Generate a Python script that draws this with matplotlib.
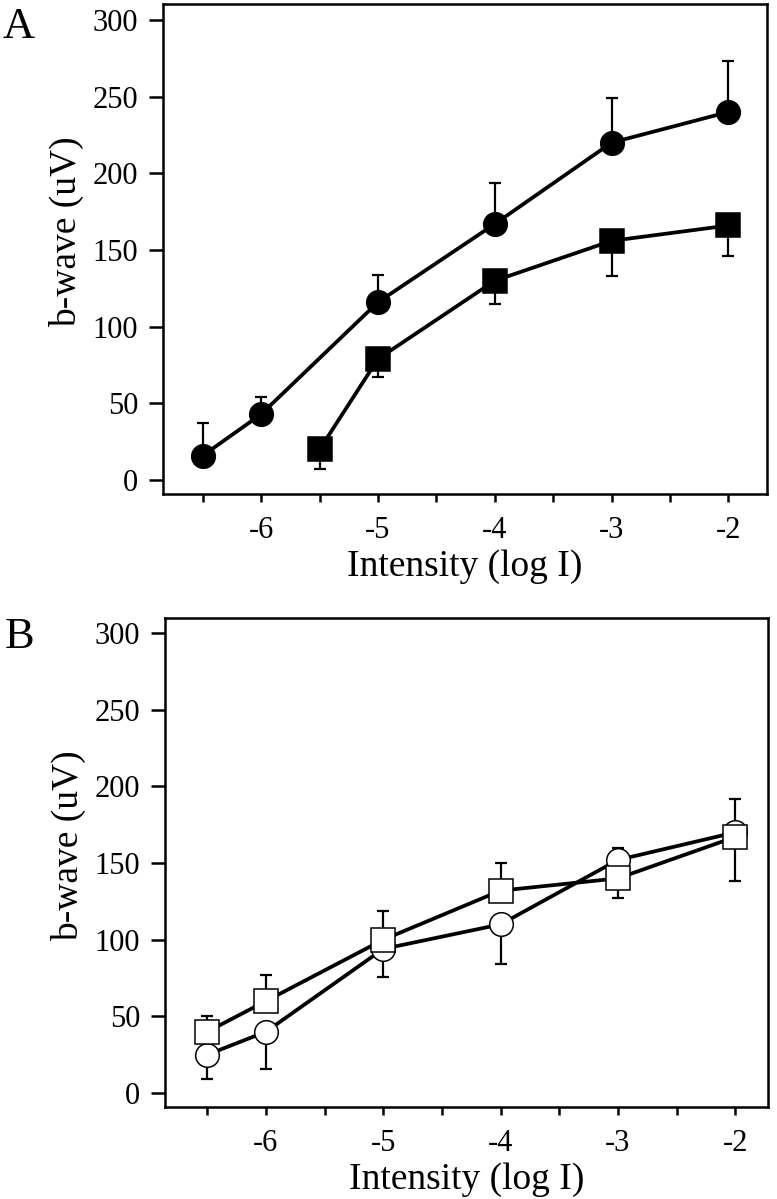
import numpy as np
import matplotlib.pyplot as plt

plt.rcParams['font.family'] = 'Liberation Serif'
plt.rcParams['axes.unicode_minus'] = False

# panel A, filled symbols
a_circ_x = [-6.5, -6, -5, -4, -3, -2]
a_circ_y = [16, 43, 116, 167, 220, 240]
a_circ_up = [21, 11, 18, 27, 29, 33]

a_sq_x = [-5.5, -5, -4, -3, -2]
a_sq_y = [20, 79, 130, 156, 166]
a_sq_dn = [13, 12, 15, 23, 20]

# panel B, open symbols
b_circ_x = [-6.5, -6, -5, -4, -3, -2]
b_circ_y = [25, 40, 94, 110, 152, 170]
b_circ_dn = [16, 24, 18, 26, 0, 0]
b_circ_up = [0, 0, 0, 0, 8, 22]

b_sq_x = [-6.5, -6, -5, -4, -3, -2]
b_sq_y = [40, 60, 100, 132, 140, 167]
b_sq_dn = [0, 0, 0, 0, 13, 29]
b_sq_up = [10, 17, 19, 18, 0, 0]

xticks = [-6, -5, -4, -3, -2]
yticks = [0, 50, 100, 150, 200, 250, 300]


def series(ax, x, y, dn, up, marker, filled, ms):
    ax.errorbar(x, y, yerr=[dn, up], fmt='none', ecolor='black',
                elinewidth=1.6, capsize=4.5, capthick=1.6, zorder=2)
    ax.plot(x, y, color='black', linewidth=2.7, marker=marker, markersize=ms,
            markerfacecolor='black' if filled else 'white',
            markeredgecolor='black', markeredgewidth=1.1, zorder=3)


def setup(ax, ylim, xlim):
    ax.set_xlim(*xlim)
    ax.set_ylim(*ylim)
    ax.set_xticks(xticks)
    ax.set_xticks(np.arange(-6.5, -2, 1), minor=True)
    ax.set_yticks(yticks)
    ax.tick_params(axis='y', length=10, width=1.8, pad=8, labelsize=22)
    ax.tick_params(axis='x', which='both', length=6, width=1.8, pad=10, labelsize=22)
    for s in ax.spines.values():
        s.set_linewidth(1.8)
    ax.set_xlabel('Intensity (log I)', fontsize=27, labelpad=3)
    ax.set_ylabel('b-wave (uV)', fontsize=27, labelpad=6)
    ax.yaxis.label.set_y(0.535)


fig = plt.figure(figsize=(7.77, 11.99), dpi=100)

axA = fig.add_axes([0.2098, 0.588, 0.7773, 0.4087])
series(axA, a_circ_x, a_circ_y, [0] * len(a_circ_y), a_circ_up, 'o', True, 17)
series(axA, a_sq_x, a_sq_y, a_sq_dn, [0] * len(a_sq_y), 's', True, 17)
setup(axA, (-9, 310.4), (-6.84, -1.67))

axB = fig.add_axes([0.2124, 0.0767, 0.7761, 0.4079])
series(axB, b_circ_x, b_circ_y, b_circ_dn, b_circ_up, 'o', False, 17)
series(axB, b_sq_x, b_sq_y, b_sq_dn, b_sq_up, 's', False, 17)
setup(axB, (-9.1, 309.8), (-6.86, -1.72))

fig.text(0.004, 0.9683, 'A', fontsize=32, va='baseline', ha='left')
fig.text(0.006, 0.4596, 'B', fontsize=32, va='baseline', ha='left')

plt.savefig('out.png', dpi=100)
